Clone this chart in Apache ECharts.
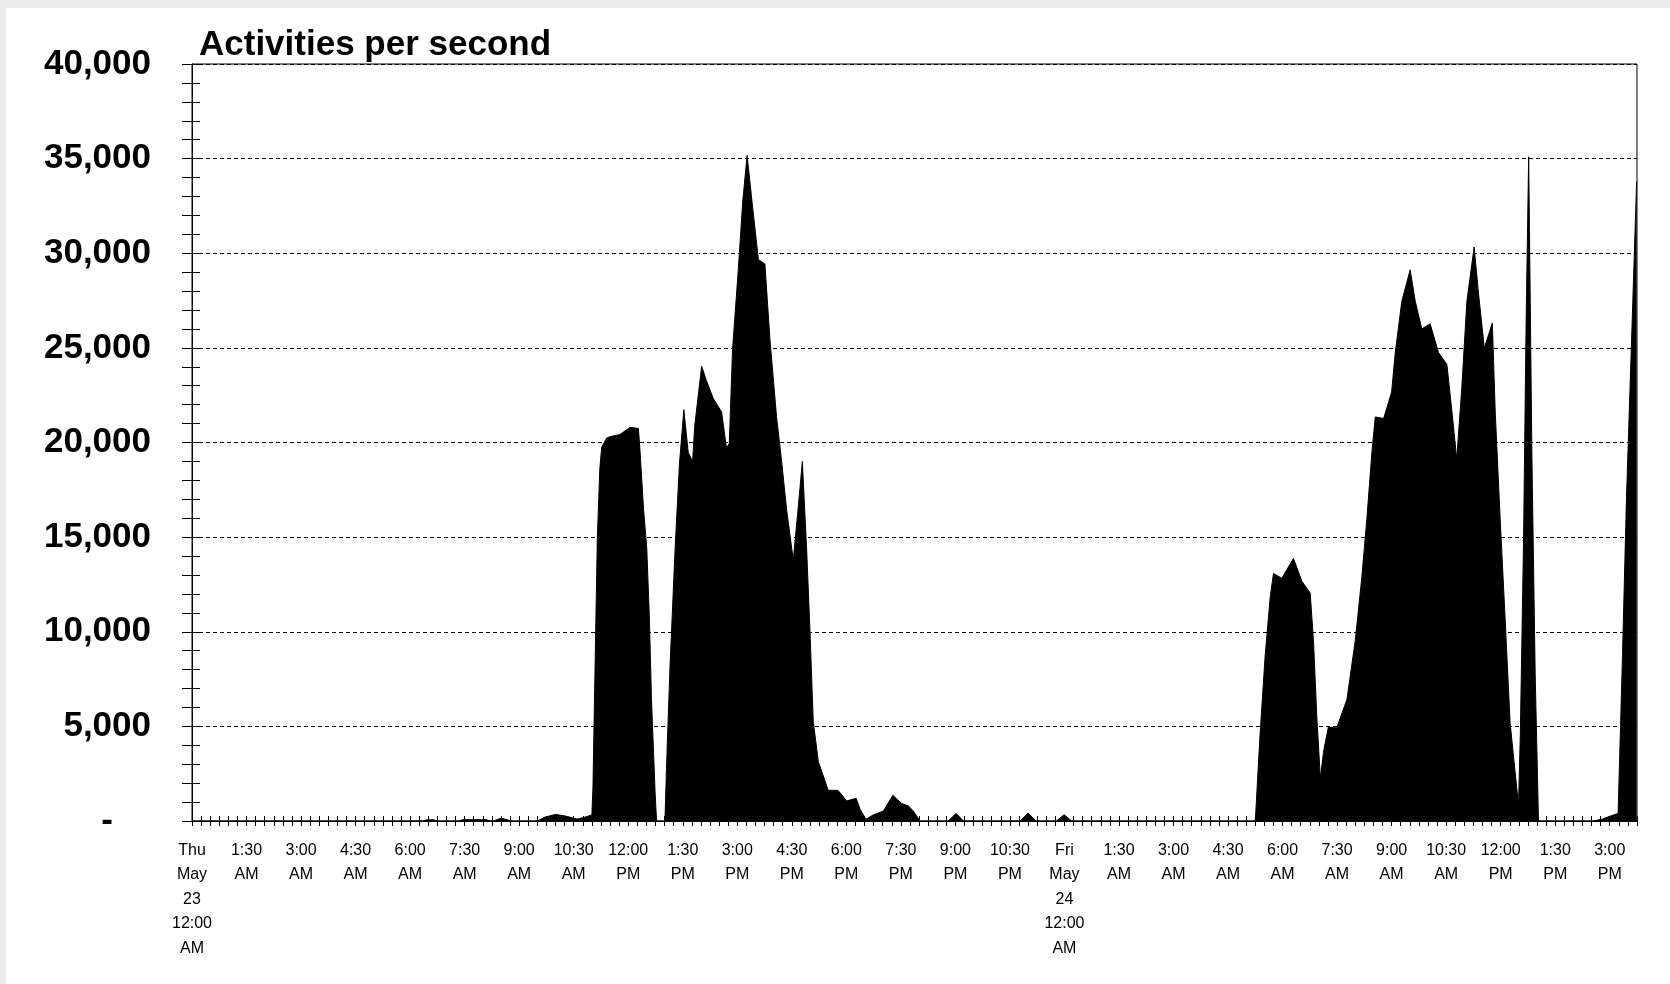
<!DOCTYPE html>
<html>
<head>
<meta charset="utf-8">
<script src="https://cdn.jsdelivr.net/npm/echarts@6/dist/echarts.min.js"></script>
<style>
  html, body { margin: 0; padding: 0; background: #ececec; }
  #chart { position: absolute; left: 6px; top: 8px; width: 1664px; height: 976px; background: #ffffff; }
</style>
</head>
<body>
<div id="chart"></div>
<script>
// Hours since Thu May 23 12:00 AM
const hours = [
  0, 6.35, 6.45, 6.65, 6.75, 7.35, 7.45, 8.1, 8.2, 8.3, 8.5, 8.8, 9.5, 9.7, 10.0, 10.3, 10.6, 10.8, 11.0,
  11.03, 11.09, 11.15, 11.22, 11.27, 11.41, 11.55, 11.77, 12.05, 12.28, 12.32, 12.42, 12.51, 12.58, 12.64, 12.74, 12.78,
  13.01, 13.06, 13.15, 13.29, 13.41, 13.53, 13.65, 13.77, 13.83, 14.02, 14.15, 14.34, 14.57, 14.7, 14.78, 14.87,
  15.03, 15.15, 15.27, 15.39, 15.58, 15.76, 15.9, 16.08, 16.22, 16.36, 16.54, 16.68, 16.79, 16.91, 17.0, 17.09,
  17.23, 17.32, 17.5, 17.77, 18.01, 18.27, 18.38, 18.54, 18.74, 19.02, 19.28, 19.52, 19.71, 19.84, 20.03,
  20.8, 21.02, 21.22, 22.78, 23.0, 23.22, 23.78, 23.99, 24.2,
  29.25, 29.38, 29.52, 29.66, 29.75, 29.98, 30.3, 30.53, 30.76, 30.85, 30.94, 31.04, 31.13, 31.26, 31.49, 31.77,
  32.0, 32.18, 32.32, 32.46, 32.55, 32.78, 33.0, 33.1, 33.28, 33.51, 33.65, 33.83, 34.06, 34.29, 34.52, 34.66,
  34.79, 34.93, 35.07, 35.27, 35.39, 35.55, 35.77, 35.85, 35.99, 36.12, 36.26, 36.49, 36.54, 36.63, 36.7, 36.77,
  36.86, 36.95, 37.04, 38.55, 38.8, 39.0, 39.23, 39.28, 39.35, 39.46, 39.6, 39.74
];
const activities = [
  0, 0, 60, 60, 0, 0, 70, 70, 0, 0, 150, 0, 0, 200, 350, 250, 100, 200, 320,
  1800, 8400, 14950, 18660, 19750, 20250, 20330, 20420, 20800, 20740, 19700, 16530, 14400, 10850, 6430, 1470, 0,
  0, 3240, 8200, 14400, 18900, 21730, 19480, 19000, 20900, 24030, 23270, 22320, 21610, 19720, 19950, 24930,
  29190, 32750, 35170, 33000, 29670, 29430, 25400, 21370, 19000, 16400, 13790, 16640, 19000, 14270, 10000, 5260,
  3130, 2640, 1620, 1620, 1060, 1200, 615, 90, 320, 530, 1355, 930, 790, 530, 0,
  0, 400, 0, 0, 420, 0, 0, 330, 0,
  0, 4540, 8710, 11830, 13080, 12830, 13875, 12670, 12040, 9540, 5580, 2250, 3700, 4960, 4920, 6420,
  9540, 12875, 16000, 19540, 21350, 21270, 22670, 24750, 27460, 29125, 27460, 26000, 26270, 24750, 24125, 21625,
  19125, 22875, 27460, 30330, 27875, 25000, 26310, 21625, 15790, 10790, 5170, 830, 4540, 14960, 26420, 35100,
  19125, 7670, 0, 0, 100, 250, 400, 500, 8700, 17040, 25375, 33800
];
// x tick labels every 1.5 hours
const xTickLabels = [
  'Thu\nMay\n23\n12:00\nAM', '1:30\nAM', '3:00\nAM', '4:30\nAM', '6:00\nAM', '7:30\nAM', '9:00\nAM', '10:30\nAM',
  '12:00\nPM', '1:30\nPM', '3:00\nPM', '4:30\nPM', '6:00\nPM', '7:30\nPM', '9:00\nPM', '10:30\nPM',
  'Fri\nMay\n24\n12:00\nAM', '1:30\nAM', '3:00\nAM', '4:30\nAM', '6:00\nAM', '7:30\nAM', '9:00\nAM', '10:30\nAM',
  '12:00\nPM', '1:30\nPM', '3:00\nPM'
];
const yTickLabels = ['-', '5,000', '10,000', '15,000', '20,000', '25,000', '30,000', '35,000', '40,000'];
const titleText = 'Activities per second';

const X_MAX = 39.75;
const seriesData = hours.map((h, i) => [h, activities[i]]);

const chart = echarts.init(document.getElementById('chart'), null, { renderer: 'canvas' });
const option = {
  backgroundColor: '#ffffff',
  animation: false,
  title: {
    text: titleText,
    left: 188,
    top: 15,
    textStyle: { fontFamily: 'Liberation Sans, Arial, sans-serif', fontSize: 35, fontWeight: 'bold', color: '#000' }
  },
  grid: {
    left: 186, right: 33, top: 56, bottom: 163,
    show: true, borderColor: '#000', borderWidth: 1, backgroundColor: 'transparent'
  },
  xAxis: [
    {
      type: 'value', min: 0, max: X_MAX, interval: 0.25,
      axisLine: { show: true, onZero: false, lineStyle: { color: '#000', width: 1 } },
      axisTick: { show: true, length: 5, lineStyle: { color: '#000', width: 1 } },
      splitLine: { show: false },
      axisLabel: {
        show: true, margin: 17, showMinLabel: true, showMaxLabel: true,
        fontFamily: 'Liberation Sans Narrow, Liberation Sans, Arial, sans-serif',
        fontSize: 16, lineHeight: 24.5, color: '#000', align: 'center', verticalAlign: 'top',
        formatter: function (v) {
          const k = Math.round(v / 1.5);
          if (Math.abs(v - k * 1.5) < 1e-6 && k < xTickLabels.length) return xTickLabels[k];
          return '';
        }
      }
    },
    {
      type: 'value', min: 0, max: X_MAX, interval: 0.25, position: 'bottom',
      axisLine: { show: false, onZero: false },
      axisTick: { show: true, inside: true, length: 5, lineStyle: { color: '#000', width: 1 } },
      axisLabel: { show: false },
      splitLine: { show: false }
    }
  ],
  yAxis: [
    {
      type: 'value', min: 0, max: 40000, interval: 5000,
      axisLine: { show: true, onZero: false, lineStyle: { color: '#000', width: 1 } },
      axisTick: { show: true, length: 10, lineStyle: { color: '#000', width: 1 } },
      minorTick: { show: true, splitNumber: 5, length: 10, lineStyle: { color: '#000', width: 1 } },
      splitLine: { show: true, lineStyle: { color: '#000', width: 1, type: [4, 3] } },
      axisLabel: {
        margin: 41,
        fontFamily: 'Liberation Sans, Arial, sans-serif', fontSize: 35, fontWeight: 'bold', color: '#000',
        formatter: function (v) {
          const k = Math.round(v / 5000);
          if (k === 0) return '{dash|' + yTickLabels[0] + '}';
          return yTickLabels[k];
        },
        rich: {
          dash: { fontFamily: 'Liberation Sans, Arial, sans-serif', fontSize: 35, fontWeight: 'bold', color: '#000', padding: [0, 38, 0, 0] }
        }
      }
    },
    {
      type: 'value', min: 0, max: 40000, interval: 1000, position: 'left',
      axisLine: { show: false, onZero: false },
      axisTick: { show: true, inside: true, length: 8, lineStyle: { color: '#000', width: 1 } },
      axisLabel: { show: false },
      splitLine: { show: false }
    }
  ],
  series: [
    {
      type: 'line', xAxisIndex: 0, yAxisIndex: 0,
      data: seriesData, showSymbol: false, symbol: 'none',
      lineStyle: { color: '#000', width: 1 },
      areaStyle: { color: '#000', opacity: 1 },
      z: 3
    }
  ]
};
chart.setOption(option);
</script>
</body>
</html>
